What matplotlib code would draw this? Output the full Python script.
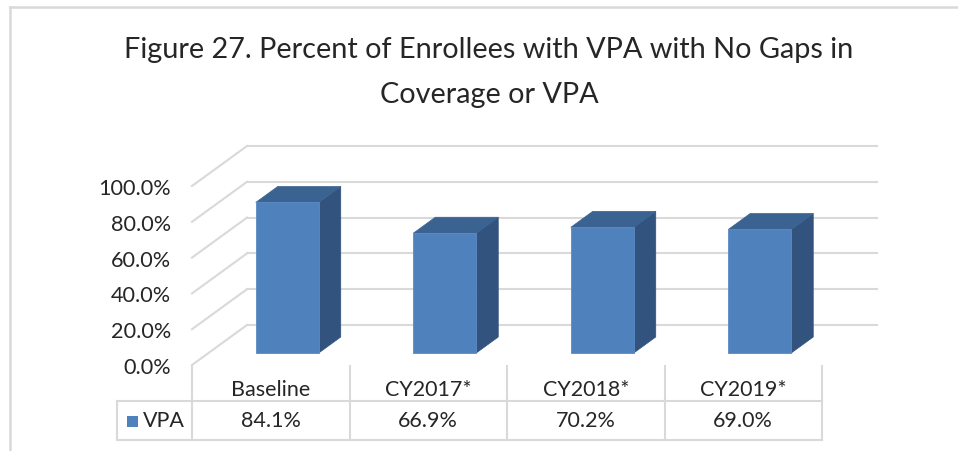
import matplotlib.pyplot as plt
from matplotlib.patches import Polygon, Rectangle

plt.rcParams['font.family'] = ['Lato', 'DejaVu Sans']

# data
categories = ['Baseline', 'CY2017*', 'CY2018*', 'CY2019*']
vpa = [84.1, 66.9, 70.2, 69.0]
series_name = 'VPA'
yticks = [0, 20, 40, 60, 80, 100]

W, H = 958, 452
front_c = '#4f81bd'
top_c = '#3b6392'
side_c = '#31537d'
grid_c = '#d9d9d9'
text_c = '#262626'

# pixel layout of the plot area (front floor line at y=366)
px_left, px_right = 192, 877
px_bot, px_top = 366, 140
col_w = 157.5           # pixels per category
px_per_pct = 1.79
DX = 55 / col_w         # depth offset in category units
DY = 40 / px_per_pct    # depth offset in percent units

fig = plt.figure(figsize=(W / 100, H / 100), dpi=100)

def fr(x, y):
    return x / W, 1 - y / H

# outer border
fig.add_artist(plt.Line2D([10 / W, 1], [1 - 8 / H, 1 - 8 / H], color=grid_c, lw=1.8))
fig.add_artist(plt.Line2D([10 / W, 10 / W], [0, 1 - 8 / H], color=grid_c, lw=1.8))

# title
fig.text(*fr(489, 58), 'Figure 27. Percent of Enrollees with VPA with No Gaps in',
         ha='center', va='baseline', fontsize=20.8, color=text_c)
fig.text(*fr(489, 103), 'Coverage or VPA', ha='center', va='baseline',
         fontsize=20.8, color=text_c)

l, b = fr(px_left, px_bot)
ax = fig.add_axes([l, b, (px_right - px_left) / W, (px_bot - px_top) / H])
ax.set_xlim(-0.5, -0.5 + (px_right - px_left) / col_w)
ax.set_ylim(0, (px_bot - px_top) / px_per_pct)
for s in ax.spines.values():
    s.set_visible(False)
ax.set_xticks([])
ax.set_yticks(yticks)
ax.set_yticklabels(['{:.1f}%'.format(v) for v in yticks], fontsize=15.6, color=text_c)
ax.tick_params(axis='y', length=0, pad=15)
ax.patch.set_alpha(0)

n = len(categories)
x0, x1 = -0.5, n - 0.5
# back wall gridlines and left wall diagonals
for v in yticks:
    ax.plot([x0 + DX, x1 + DX], [v + DY, v + DY], color=grid_c, lw=1.5, clip_on=False, zorder=1)
    ax.plot([x0, x0 + DX], [v, v + DY], color=grid_c, lw=1.5, clip_on=False, zorder=1)

# 3d bars
bw = 0.4
z0, z1 = 0.3, 0.7
for i, v in enumerate(vpa):
    bx = i - bw / 2 + z0 * DX
    by = z0 * DY
    ddx = (z1 - z0) * DX
    ddy = (z1 - z0) * DY
    ax.add_patch(Polygon([(bx + bw, by), (bx + bw + ddx, by + ddy),
                          (bx + bw + ddx, by + v + ddy), (bx + bw, by + v)],
                         closed=True, fc=side_c, ec=side_c, lw=0.5, zorder=3, clip_on=False))
    ax.add_patch(Polygon([(bx, by + v), (bx + bw, by + v),
                          (bx + bw + ddx, by + v + ddy), (bx + ddx, by + v + ddy)],
                         closed=True, fc=top_c, ec=top_c, lw=0.5, zorder=3, clip_on=False))
    ax.add_patch(Rectangle((bx, by), bw, v, fc=front_c, ec='#5a8bc6', lw=0.6,
                           zorder=4, clip_on=False))

# data table below the plot
tab = fig.add_axes([l, 1 - 445 / H, (px_right - px_left) / W, (445 - px_bot) / H])
tab.set_xlim(ax.get_xlim())
tab.set_ylim(445, px_bot)
tab.axis('off')
row_mid, row_bot = 402, 441
leg_left = -0.5 - 75 / col_w
for k in range(n + 1):
    tab.plot([k - 0.5, k - 0.5], [px_bot + 1, row_bot], color=grid_c, lw=1.5, clip_on=False)
tab.plot([leg_left, n - 0.5], [row_mid, row_mid], color=grid_c, lw=1.5, clip_on=False)
tab.plot([leg_left, n - 0.5], [row_bot, row_bot], color=grid_c, lw=1.5, clip_on=False)
tab.plot([leg_left, leg_left], [row_mid, row_bot], color=grid_c, lw=1.5, clip_on=False)
for i, (c, v) in enumerate(zip(categories, vpa)):
    tab.text(i, 390, c, ha='center', va='center', fontsize=15.5, color=text_c)
    tab.text(i, 421.5, '{:.1f}%'.format(v), ha='center', va='center', fontsize=15.5, color=text_c)
tab.add_patch(Rectangle((leg_left + 10 / col_w, 416.5), 11 / col_w, 11, fc=front_c,
                        ec='none', clip_on=False))
tab.text(leg_left + 26 / col_w, 421.5, series_name, ha='left', va='center',
         fontsize=15.5, color=text_c)

fig.savefig('out.png', dpi=100)
